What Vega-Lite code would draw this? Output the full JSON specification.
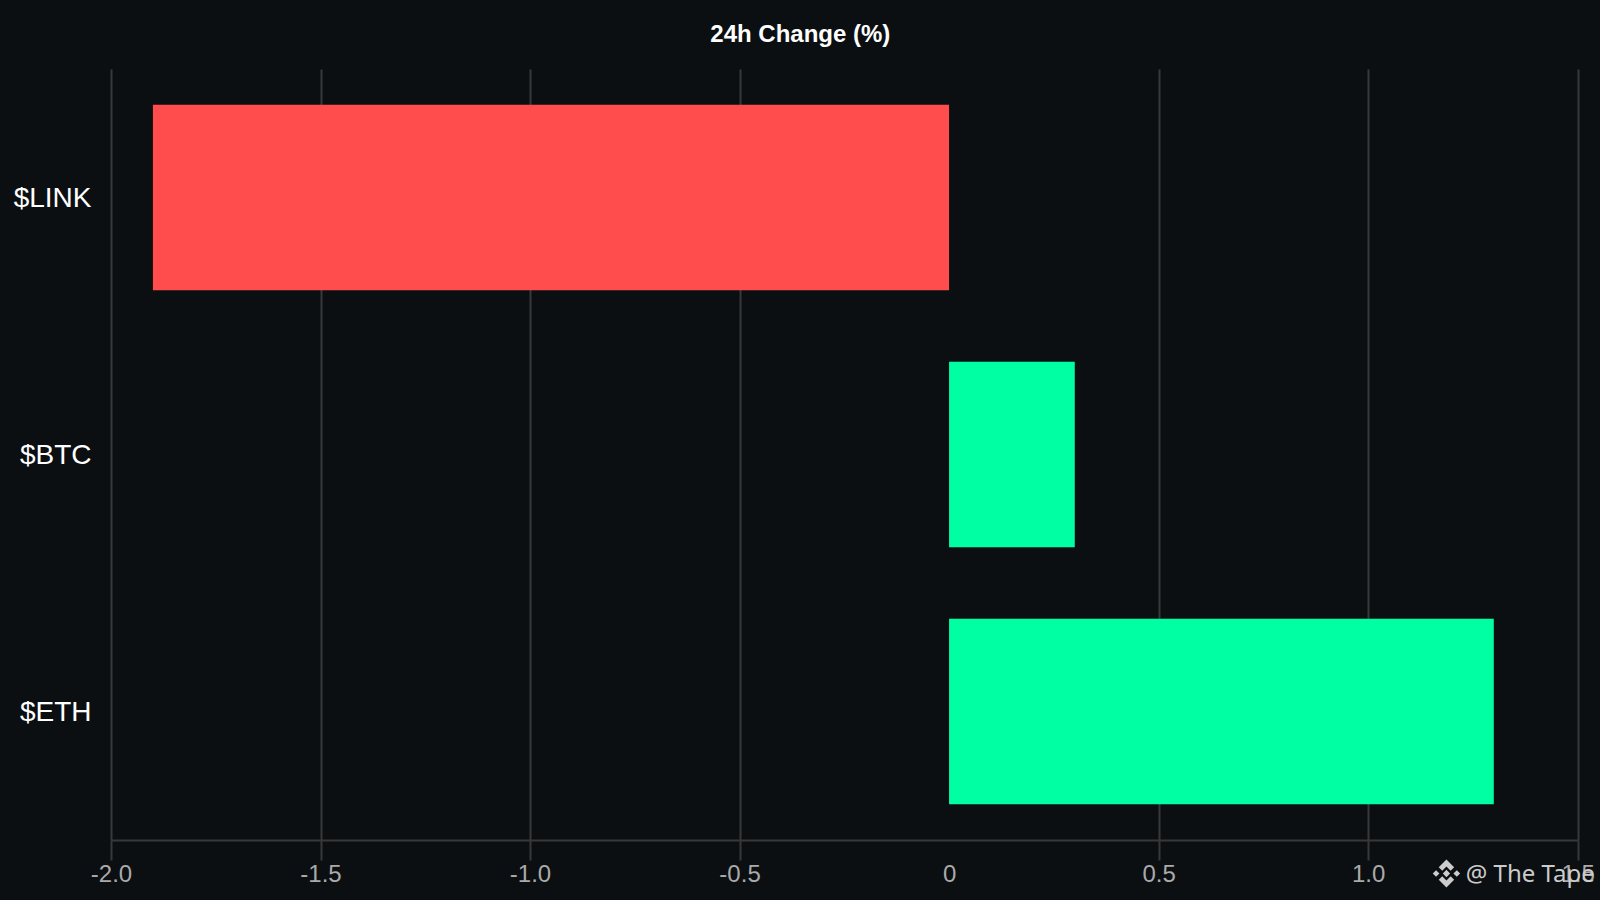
{
  "$schema": "https://vega.github.io/schema/vega-lite/v6.json",
  "description": "24h change of three tokens.",
  "width": 1466.6,
  "height": 771,
  "autosize": {"type": "none"},
  "padding": {"left": 111, "top": 69, "right": 22.4, "bottom": 60},
  "background": "#0b0f12",
  "title": {
    "text": "24h Change (%)",
    "font": "Liberation Sans",
    "fontSize": 24,
    "fontWeight": "bold",
    "color": "#ffffff",
    "anchor": "middle",
    "frame": "group",
    "dx": -44,
    "baseline": "alphabetic",
    "offset": 3
  },
  "data": {
    "values": [
      {"token": "$LINK", "change": -1.9},
      {"token": "$BTC", "change": 0.3},
      {"token": "$ETH", "change": 1.3}
    ]
  },
  "layer": [
    {
      "mark": {"type": "bar", "clip": false},
      "encoding": {
        "y": {
          "field": "token",
          "type": "nominal",
          "sort": ["$LINK", "$BTC", "$ETH"],
          "scale": {"paddingInner": 0.278, "paddingOuter": 0.139},
          "axis": {
            "title": null,
            "domain": false,
            "ticks": false,
            "labelFont": "Liberation Sans",
            "labelFontSize": 28,
            "labelColor": "#ffffff",
            "labelPadding": 20,
            "labelOffset": 1
          }
        },
        "x": {
          "field": "change",
          "type": "quantitative",
          "scale": {"domain": [-2, 1.5], "nice": false},
          "axis": {
            "title": null,
            "values": [-2, -1.5, -1, -0.5, 0, 0.5, 1, 1.5],
            "labelExpr": "datum.value == 0 ? '0' : replace(format(datum.value, '.1f'), '\u2212', '-')",
            "labelFont": "Liberation Sans",
            "labelFontSize": 24,
            "labelColor": "#aaaaaa",
            "labelPadding": 2,
            "labelFlush": false,
            "labelOverlap": false,
            "domainColor": "#383838",
            "domainWidth": 2,
            "tickColor": "#383838",
            "tickWidth": 2,
            "tickSize": 20,
            "tickOpacity": {"expr": "datum.value == 0 ? 0 : 1"},
            "grid": true,
            "gridColor": "#383838",
            "gridWidth": 2,
            "gridOpacity": {"expr": "datum.value == 0 ? 0 : 1"}
          }
        },
        "color": {
          "condition": {"test": "datum.change < 0", "value": "#ff4d4d"},
          "value": "#00ffa3"
        }
      }
    },
    {
      "data": {"values": [{"token": "$ETH", "pos": 1.233, "label": "@ The Tape"}]},
      "mark": {
        "type": "text",
        "align": "left",
        "baseline": "middle",
        "dy": 163,
        "font": "Noto Sans",
        "fontSize": 24,
        "color": "#cccccc"
      },
      "encoding": {
        "x": {"field": "pos", "type": "quantitative", "title": null},
        "y": {"field": "token", "type": "nominal", "sort": ["$LINK", "$BTC", "$ETH"], "title": null},
        "text": {"field": "label"}
      }
    },
    {
      "data": {"values": [{"token": "$ETH", "pos": 1.187}]},
      "mark": {
        "type": "point",
        "filled": true,
        "color": "#cccccc",
        "opacity": 1,
        "size": 784,
        "yOffset": 162,
        "shape": "M0 -0.26L0.26 0L0 0.26L-0.26 0ZM-0.74 -0.24L-0.5 0L-0.74 0.24L-0.98 0ZM0.74 -0.24L0.98 0L0.74 0.24L0.5 0ZM0 -1L0.55 -0.45L0.3 -0.2L0 -0.5L-0.3 -0.2L-0.55 -0.45ZM0 1L0.55 0.45L0.3 0.2L0 0.5L-0.3 0.2L-0.55 0.45Z"
      },
      "encoding": {
        "x": {"field": "pos", "type": "quantitative", "title": null},
        "y": {"field": "token", "type": "nominal", "sort": ["$LINK", "$BTC", "$ETH"], "title": null}
      }
    }
  ],
  "config": {"view": {"stroke": null}}
}
